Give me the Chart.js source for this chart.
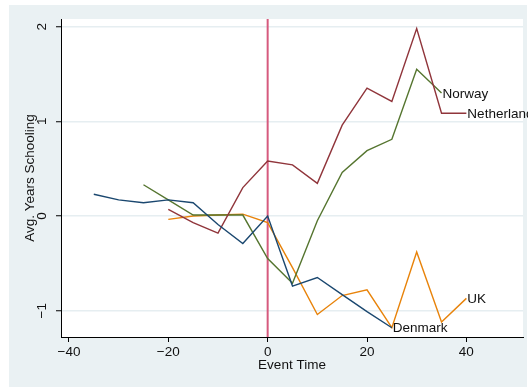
<!DOCTYPE html>
<html>
<head>
<meta charset="utf-8">
<script src="https://cdn.jsdelivr.net/npm/chart.js@4/dist/chart.umd.min.js"></script>
<style>
  html, body { margin: 0; padding: 0; background: #ffffff; }
  #wrap { width: 528px; height: 387px; }
</style>
</head>
<body>
<div id="wrap"><canvas id="c" width="528" height="387"></canvas></div>
<script>
// Event time (years relative to the reform)
const eventTime = [-35, -30, -25, -20, -15, -10, -5, 0, 5, 10, 15, 20, 25, 30, 35, 40];

// Average years of schooling, by country
const denmark     = [0.23, 0.17, 0.14, 0.17, 0.14, -0.09, -0.29, 0.00, -0.74, -0.65, -0.83, -1.01, -1.18, null, null, null];
const netherlands = [null, null, null, 0.07, -0.07, -0.18, 0.30, 0.58, 0.54, 0.345, 0.96, 1.35, 1.21, 1.98, 1.085, 1.085];
const norway      = [null, null, 0.33, 0.17, 0.01, 0.01, 0.01, -0.45, -0.71, -0.05, 0.46, 0.69, 0.81, 1.55, 1.30, null];
const uk          = [null, null, null, -0.035, 0.00, 0.01, 0.02, -0.07, -0.545, -1.04, -0.84, -0.78, -1.18, -0.38, -1.12, -0.87];

const seriesNames = ['Denmark', 'Netherlands', 'Norway', 'UK'];
const xTicks = [-40, -20, 0, 20, 40];
const yTicks = [-1, 0, 1, 2];
const eventLineAt = 0;

const FONT = '"Liberation Sans", Arial, Helvetica, sans-serif';
const FONT_SIZE = 13.5;
const colors = ['#1a476f', '#90353b', '#55752f', '#e8830a'];

function toPoints(vals) {
  return eventTime.map((t, i) => ({ x: t, y: vals[i] }));
}

const minusSign = v => String(v).replace('-', '\u2212');

// Light panel behind the whole graph, white plot region
const backdrop = {
  id: 'backdrop',
  beforeDraw(chart) {
    const { ctx, chartArea: a } = chart;
    ctx.save();
    ctx.fillStyle = '#ffffff';
    ctx.fillRect(0, 0, chart.width, chart.height);
    ctx.fillStyle = '#eaf1f3';
    ctx.fillRect(9, 5, chart.width - 10, chart.height - 5);
    ctx.fillStyle = '#ffffff';
    ctx.fillRect(a.left, a.top, a.right - a.left, a.bottom - a.top);
    ctx.restore();
  }
};

// Vertical reference line at event time zero
const eventLine = {
  id: 'eventLine',
  beforeDatasetsDraw(chart) {
    const { ctx, chartArea: a, scales: { x } } = chart;
    const px = x.getPixelForValue(eventLineAt);
    ctx.save();
    ctx.strokeStyle = '#d65a7e';
    ctx.lineWidth = 2;
    ctx.beginPath();
    ctx.moveTo(px, a.top);
    ctx.lineTo(px, a.bottom);
    ctx.stroke();
    ctx.restore();
  }
};

// Country name next to the last point of each line
const endLabels = {
  id: 'endLabels',
  afterDatasetsDraw(chart) {
    const { ctx } = chart;
    ctx.save();
    ctx.font = FONT_SIZE + 'px ' + FONT;
    ctx.fillStyle = '#111111';
    ctx.textAlign = 'left';
    ctx.textBaseline = 'middle';
    chart.data.datasets.forEach((ds, di) => {
      const meta = chart.getDatasetMeta(di);
      let last = -1;
      ds.data.forEach((p, i) => { if (p.y !== null) last = i; });
      if (last < 0) return;
      const el = meta.data[last];
      ctx.fillText(ds.label, el.x + 1, el.y + 1);
    });
    ctx.restore();
  }
};

const datasets = [denmark, netherlands, norway, uk].map((vals, i) => ({
  label: seriesNames[i],
  data: toPoints(vals),
  borderColor: colors[i],
  backgroundColor: colors[i],
  borderWidth: 1.4,
  pointRadius: 0,
  tension: 0,
  spanGaps: false,
  fill: false
}));

new Chart(document.getElementById('c'), {
  type: 'line',
  data: { datasets },
  plugins: [backdrop, eventLine, endLabels],
  options: {
    responsive: false,
    animation: false,
    events: [],
    layout: { padding: { left: 0, top: 19, right: 5, bottom: 0 } },
    plugins: { legend: { display: false }, tooltip: { enabled: false } },
    scales: {
      x: {
        type: 'linear',
        min: -41.6,
        max: 51.4,
        afterBuildTicks: s => { s.ticks = xTicks.map(v => ({ value: v })); },
        afterFit: s => { s.height = 50; },
        grid: { drawOnChartArea: false, drawTicks: true, tickLength: 5, tickColor: '#000000', tickWidth: 1 },
        border: { display: true, color: '#000000', width: 1 },
        ticks: {
          color: '#111111',
          font: { family: FONT, size: FONT_SIZE },
          padding: 2,
          maxRotation: 0,
          callback: v => minusSign(v)
        },
        title: {
          display: true,
          text: 'Event Time',
          color: '#111111',
          font: { family: FONT, size: FONT_SIZE },
          padding: { top: 0, bottom: 14 }
        }
      },
      y: {
        type: 'linear',
        min: -1.278,
        max: 2.081,
        afterBuildTicks: s => { s.ticks = yTicks.map(v => ({ value: v })); },
        afterFit: s => { s.width = 61; },
        grid: { color: '#e6eef1', lineWidth: 1.5, drawTicks: true, tickLength: 5, tickColor: '#000000', tickWidth: 1 },
        border: { display: true, color: '#000000', width: 1 },
        ticks: {
          color: '#111111',
          font: { family: FONT, size: FONT_SIZE },
          padding: 6,
          minRotation: 90,
          maxRotation: 90,
          crossAlign: 'center',
          autoSkip: false,
          callback: v => minusSign(v)
        },
        title: {
          display: true,
          text: 'Avg. Years Schooling',
          color: '#111111',
          font: { family: FONT, size: FONT_SIZE },
          padding: { top: 22, bottom: 0 }
        }
      }
    }
  }
});
</script>
</body>
</html>
